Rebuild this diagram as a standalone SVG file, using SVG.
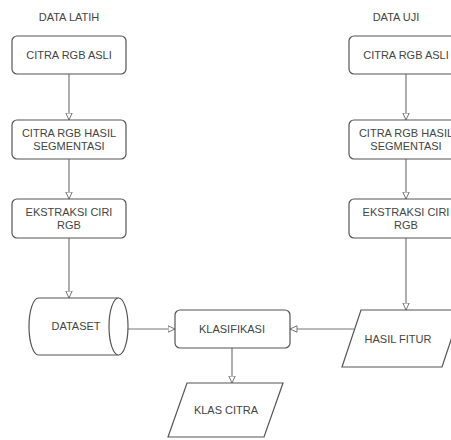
<svg xmlns="http://www.w3.org/2000/svg" width="451" height="440" viewBox="0 0 451 440">
<defs>
<style>
.box{fill:#fff;stroke:#555;stroke-width:1.2}
.edge{fill:none;stroke:#777;stroke-width:1.2}
text{font-family:"Liberation Sans",Arial,sans-serif;font-size:11px;fill:#444;text-anchor:middle}
</style>
<marker id="arr" viewBox="0 0 8 8" refX="7.5" refY="4" markerWidth="8" markerHeight="8" markerUnits="userSpaceOnUse" orient="auto">
<path d="M0.5,0.8 L7.5,4 L0.5,7.2 Z" fill="#fff" stroke="#777" stroke-width="1"/>
</marker>
</defs>
<rect width="451" height="440" fill="#fff"/>
<text x="69" y="21">DATA LATIH</text>
<text x="396" y="21">DATA UJI</text>
<g id="connectors">
<path class="edge" d="M69,74 V120" marker-end="url(#arr)"/>
<path class="edge" d="M69,159 V199" marker-end="url(#arr)"/>
<path class="edge" d="M69,238 V298" marker-end="url(#arr)"/>
<path class="edge" d="M406,74 V120" marker-end="url(#arr)"/>
<path class="edge" d="M406,159 V199" marker-end="url(#arr)"/>
<path class="edge" d="M406,238 V310" marker-end="url(#arr)"/>
<path class="edge" d="M128,329 H175" marker-end="url(#arr)"/>
<path class="edge" d="M354,329 H290" marker-end="url(#arr)"/>
<path class="edge" d="M232,348 V383" marker-end="url(#arr)"/>
</g>
<g id="l1"><rect class="box" x="12" y="36" width="114" height="38" rx="5"/><text x="69" y="59">CITRA RGB ASLI</text></g>
<g id="l2"><rect class="box" x="12" y="120" width="114" height="39" rx="5"/><text x="69" y="137">CITRA RGB HASIL</text><text x="69" y="150">SEGMENTASI</text></g>
<g id="l3"><rect class="box" x="12" y="199" width="114" height="39" rx="5"/><text x="69" y="216">EKSTRAKSI CIRI</text><text x="69" y="229">RGB</text></g>
<g id="r1"><rect class="box" x="349" y="36" width="114" height="38" rx="5"/><text x="406" y="59">CITRA RGB ASLI</text></g>
<g id="r2"><rect class="box" x="349" y="120" width="114" height="39" rx="5"/><text x="406" y="137">CITRA RGB HASIL</text><text x="406" y="150">SEGMENTASI</text></g>
<g id="r3"><rect class="box" x="349" y="199" width="114" height="39" rx="5"/><text x="406" y="216">EKSTRAKSI CIRI</text><text x="406" y="229">RGB</text></g>
<g id="dataset">
<path class="box" d="M38.5,298 H118.5 A9.5,28.5 0 0 1 118.5,355 H38.5 A9.5,28.5 0 0 1 38.5,298 Z"/>
<path class="box" d="M118.5,298 A9.5,28.5 0 0 0 118.5,355" fill="none"/>
<text x="76" y="330">DATASET</text>
</g>
<g id="klasifikasi"><rect class="box" x="175" y="310" width="115" height="38" rx="5"/><text x="232" y="333">KLASIFIKASI</text></g>
<g id="hasilfitur"><path class="box" d="M361,310 H461 L442,367 H342 Z"/><text x="398" y="343">HASIL FITUR</text></g>
<g id="klascitra"><path class="box" d="M187,383 H283 L264,437 H168 Z"/><text x="226" y="414">KLAS CITRA</text></g>
</svg>
